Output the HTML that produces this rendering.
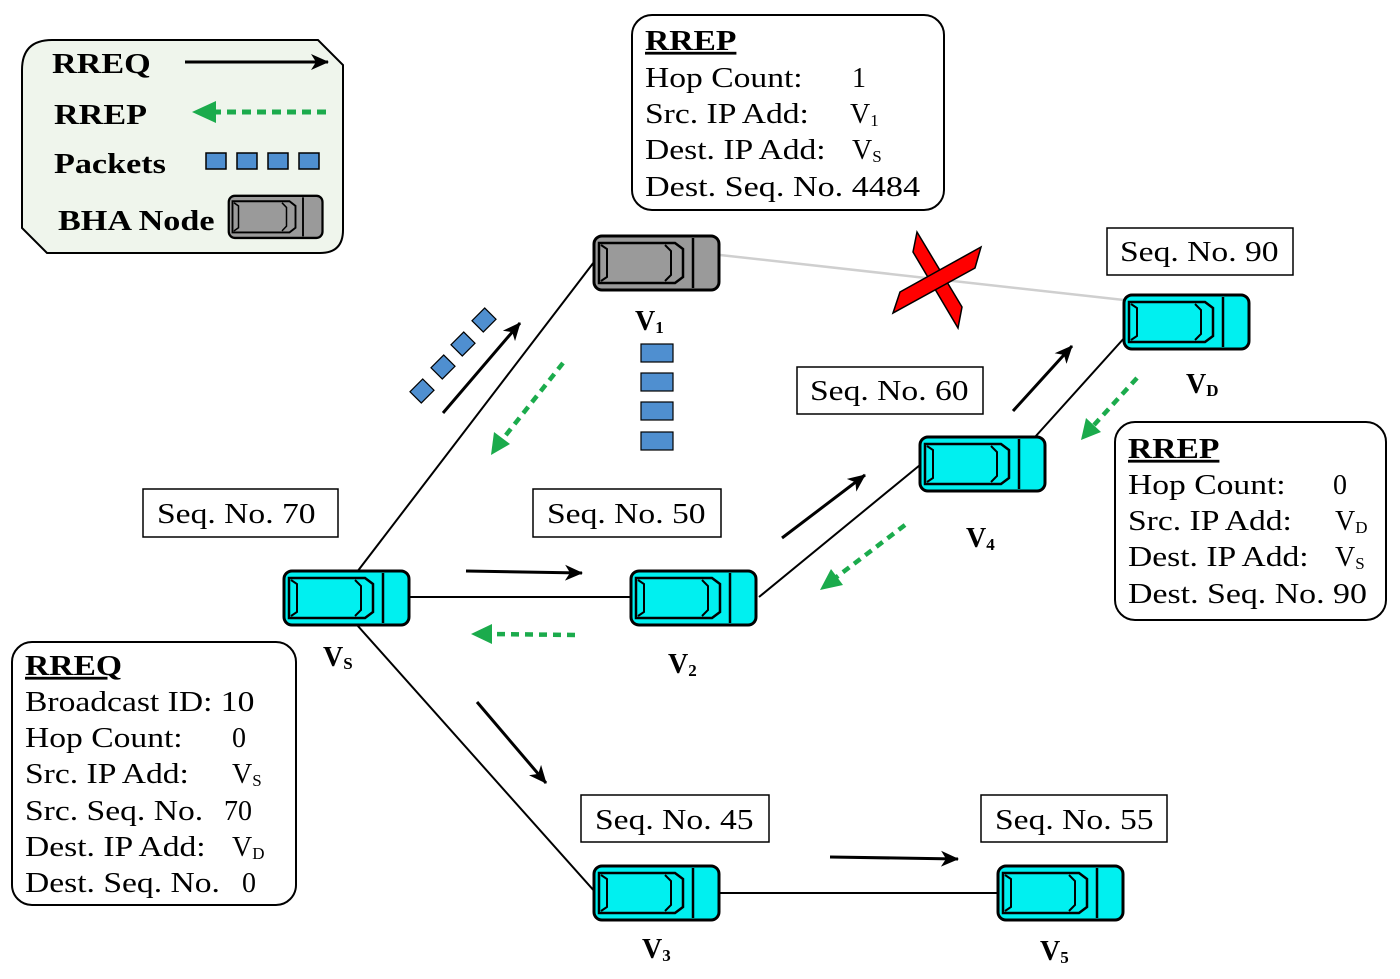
<!DOCTYPE html>
<html><head><meta charset="utf-8"><style>
html,body{margin:0;padding:0;background:#fff;}
svg{display:block;font-family:"Liberation Serif",serif;}
.t{font-size:28px;fill:#000;}
.b{font-weight:bold;}
</style></head><body>
<svg width="1400" height="979" viewBox="0 0 1400 979" xmlns="http://www.w3.org/2000/svg">
<defs>
<marker id="ab" markerWidth="18" markerHeight="16" refX="17" refY="8" orient="auto" markerUnits="userSpaceOnUse" viewBox="0 0 18 16"><path d="M0,0 L18,8 L0,16 L5,8z" fill="#000"/></marker>
<g id="car">
<rect x="1" y="1" width="125" height="54" rx="8" stroke="#000" stroke-width="3"/>
<path d="M6,8 L82,8 L90,14 L90,42 L82,48 L6,48 Z" fill="none" stroke="#000" stroke-width="2.5"/>
<path d="M8,10 L14,14 L14,42 L8,46" fill="none" stroke="#000" stroke-width="2"/>
<path d="M72,10 L78,16 L78,40 L72,46" fill="none" stroke="#000" stroke-width="2"/>
<line x1="100" y1="3" x2="100" y2="53" stroke="#000" stroke-width="2.5"/>
</g>
</defs>

<!-- legend -->
<path d="M52,40 L318,40 L343,65 L343,230 Q343,253 320,253 L47,253 L22,228 L22,70 Q22,40 52,40 Z" fill="#eff5ec" stroke="#000" stroke-width="2"/>
<g class="t b">
<text transform="translate(52,73) scale(1.22,1)">RREQ</text>
<text transform="translate(54,124) scale(1.22,1)">RREP</text>
<text transform="translate(54,173) scale(1.22,1)">Packets</text>
<text transform="translate(58,230) scale(1.22,1)">BHA Node</text>
</g>
<line x1="185" y1="62" x2="328" y2="62" stroke="#000" stroke-width="3" marker-end="url(#ab)"/>
<line x1="212" y1="112" x2="330" y2="112" stroke="#1bab4c" stroke-width="5" stroke-dasharray="9,6"/>
<path d="M192,112 L216,101 L216,123 Z" fill="#1bab4c"/>
<g fill="#4f8fd0" stroke="#000" stroke-width="1.5">
<rect x="206" y="153" width="20" height="16"/><rect x="237" y="153" width="20" height="16"/><rect x="268" y="153" width="20" height="16"/><rect x="299" y="153" width="20" height="16"/>
</g>
<g transform="translate(228,195) scale(0.75,0.78)" fill="#9a9a9a"><use href="#car"/></g>

<!-- links -->
<line x1="720" y1="255" x2="1124" y2="300" stroke="#cfcfcf" stroke-width="2.5"/>
<g stroke="#000" stroke-width="2">
<line x1="594" y1="262" x2="357" y2="572"/>
<line x1="410" y1="597" x2="631" y2="597"/>
<line x1="759" y1="597" x2="920" y2="465"/>
<line x1="1035" y1="437" x2="1126" y2="336"/>
<line x1="357" y1="625" x2="596" y2="893"/>
<line x1="720" y1="893" x2="998" y2="893"/>
</g>

<!-- red X -->
<polygon points="917,232 913,252 958,328 962,307" fill="#ff0000" stroke="#000" stroke-width="1.5"/>
<polygon points="893,313 900,292 981,247 975,268" fill="#ff0000" stroke="#000" stroke-width="1.5"/>

<!-- RREQ arrows -->
<g stroke="#000" stroke-width="3" marker-end="url(#ab)">
<line x1="443" y1="413" x2="520" y2="323"/>
<line x1="466" y1="571" x2="582" y2="573"/>
<line x1="782" y1="538" x2="865" y2="475"/>
<line x1="1013" y1="411" x2="1072" y2="346"/>
<line x1="477" y1="702" x2="546" y2="783"/>
<line x1="830" y1="857" x2="958" y2="859"/>
</g>
<!-- RREP arrows -->
<g stroke="#1bab4c" stroke-width="4.5" stroke-dasharray="8,6" fill="none">
<line x1="563" y1="363" x2="502" y2="440"/>
<line x1="575" y1="635" x2="490" y2="634"/>
<line x1="905" y1="525" x2="834" y2="579"/>
<line x1="1137" y1="378" x2="1094" y2="425"/>
</g>
<g fill="#1bab4c">
<path d="M491,455 L494,432 L510,444 Z"/>
<path d="M471,634 L492,624 L492,644 Z"/>
<path d="M820,590 L831,569 L843,585 Z"/>
<path d="M1081,440 L1086,418 L1101,432 Z"/>
</g>

<!-- packets -->
<g fill="#4f8fd0" stroke="#000" stroke-width="1.2">
<rect x="641" y="344" width="32" height="18"/><rect x="641" y="373" width="32" height="18"/><rect x="641" y="402" width="32" height="18"/><rect x="641" y="432" width="32" height="18"/>
<rect x="-9" y="-8" width="18" height="16" transform="translate(422,391) rotate(-45)"/>
<rect x="-9" y="-8" width="18" height="16" transform="translate(443,367) rotate(-45)"/>
<rect x="-9" y="-8" width="18" height="16" transform="translate(463,344) rotate(-45)"/>
<rect x="-9" y="-8" width="18" height="16" transform="translate(484,320) rotate(-45)"/>
</g>

<!-- cars -->
<g transform="translate(593,235)" fill="#9a9a9a"><use href="#car"/></g>
<g transform="translate(1123,294)" fill="#00f0f0"><use href="#car"/></g>
<g transform="translate(919,436)" fill="#00f0f0"><use href="#car"/></g>
<g transform="translate(283,570)" fill="#00f0f0"><use href="#car"/></g>
<g transform="translate(630,570)" fill="#00f0f0"><use href="#car"/></g>
<g transform="translate(593,865)" fill="#00f0f0"><use href="#car"/></g>
<g transform="translate(997,865)" fill="#00f0f0"><use href="#car"/></g>

<!-- node labels -->
<g class="t b">
<text x="635" y="330">V<tspan font-size="17" dy="3">1</tspan></text>
<text x="1186" y="393">V<tspan font-size="17" dy="3">D</tspan></text>
<text x="966" y="547">V<tspan font-size="17" dy="3">4</tspan></text>
<text x="323" y="666">V<tspan font-size="17" dy="3">S</tspan></text>
<text x="668" y="673">V<tspan font-size="17" dy="3">2</tspan></text>
<text x="642" y="958">V<tspan font-size="17" dy="3">3</tspan></text>
<text x="1040" y="960">V<tspan font-size="17" dy="3">5</tspan></text>
</g>

<!-- seq boxes -->
<g fill="#fff" stroke="#000" stroke-width="1.5">
<rect x="1107" y="228" width="186" height="47"/>
<rect x="797" y="367" width="186" height="47"/>
<rect x="143" y="489" width="195" height="48"/>
<rect x="533" y="489" width="188" height="48"/>
<rect x="581" y="795" width="188" height="47"/>
<rect x="981" y="795" width="186" height="47"/>
</g>
<g class="t">
<text transform="translate(1120,261) scale(1.2,1)">Seq. No. 90</text>
<text transform="translate(810,400) scale(1.2,1)">Seq. No. 60</text>
<text transform="translate(157,523) scale(1.2,1)">Seq. No. 70</text>
<text transform="translate(547,523) scale(1.2,1)">Seq. No. 50</text>
<text transform="translate(595,829) scale(1.2,1)">Seq. No. 45</text>
<text transform="translate(995,829) scale(1.2,1)">Seq. No. 55</text>
</g>

<!-- RREP top -->
<rect x="632" y="15" width="312" height="195" rx="20" fill="#fff" stroke="#000" stroke-width="2"/>
<g class="t">
<text transform="translate(645,50) scale(1.2,1)" class="b" text-decoration="underline">RREP</text>
<text transform="translate(645,87) scale(1.2,1)">Hop Count:</text><text x="852" y="87">1</text>
<text transform="translate(645,123) scale(1.2,1)">Src. IP Add:</text><text x="850" y="123">V<tspan font-size="17" dy="3">1</tspan></text>
<text transform="translate(645,159) scale(1.2,1)">Dest. IP Add:</text><text x="852" y="159">V<tspan font-size="17" dy="3">S</tspan></text>
<text transform="translate(645,196) scale(1.22,1)">Dest. Seq. No. 4484</text>
</g>

<!-- RREP right -->
<rect x="1115" y="422" width="271" height="198" rx="20" fill="#fff" stroke="#000" stroke-width="2"/>
<g class="t">
<text transform="translate(1128,458) scale(1.2,1)" class="b" text-decoration="underline">RREP</text>
<text transform="translate(1128,494) scale(1.2,1)">Hop Count:</text><text x="1333" y="494">0</text>
<text transform="translate(1128,530) scale(1.2,1)">Src. IP Add:</text><text x="1335" y="530">V<tspan font-size="17" dy="3">D</tspan></text>
<text transform="translate(1128,566) scale(1.2,1)">Dest. IP Add:</text><text x="1335" y="566">V<tspan font-size="17" dy="3">S</tspan></text>
<text transform="translate(1128,603) scale(1.21,1)">Dest. Seq. No. 90</text>
</g>

<!-- RREQ box -->
<rect x="12" y="642" width="284" height="263" rx="20" fill="#fff" stroke="#000" stroke-width="2"/>
<g class="t">
<text transform="translate(25,675) scale(1.2,1)" class="b" text-decoration="underline">RREQ</text>
<text transform="translate(25,711) scale(1.2,1)">Broadcast ID: 10</text>
<text transform="translate(25,747) scale(1.2,1)">Hop Count:</text><text x="232" y="747">0</text>
<text transform="translate(25,783) scale(1.2,1)">Src. IP Add:</text><text x="232" y="783">V<tspan font-size="17" dy="3">S</tspan></text>
<text transform="translate(25,820) scale(1.2,1)">Src. Seq. No.</text><text x="224" y="820">70</text>
<text transform="translate(25,856) scale(1.2,1)">Dest. IP Add:</text><text x="232" y="856">V<tspan font-size="17" dy="3">D</tspan></text>
<text transform="translate(25,892) scale(1.2,1)">Dest. Seq. No.</text><text x="242" y="892">0</text>
</g>
</svg>
</body></html>
